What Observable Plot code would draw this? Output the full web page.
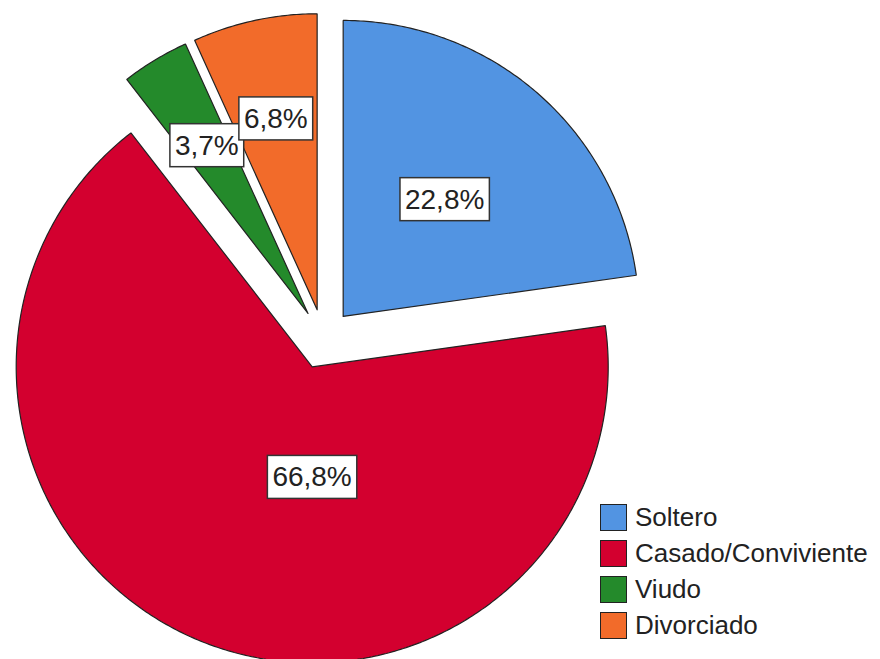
<!DOCTYPE html>
<html><head><meta charset="utf-8">
<script src="https://cdn.jsdelivr.net/npm/d3@7"></script>
<script src="https://cdn.jsdelivr.net/npm/@observablehq/plot@0.6"></script>
<style>
body{margin:0;background:#fff;}
#wrap{position:relative;width:880px;height:659px;overflow:hidden;background:#fff;}
.legend{position:absolute;left:600px;top:499.5px;font-family:"Liberation Sans",Arial,sans-serif;font-size:26px;color:#222;}
.legend .row{display:flex;align-items:center;height:36px;}
.legend .sw{width:27px;height:27px;box-sizing:border-box;border:1.5px solid #222;margin-right:8px;}
</style>
</head><body>
<div id="wrap"></div>
<script>
const categories = ["Soltero", "Casado/Conviviente", "Viudo", "Divorciado"];
const percents = [22.8, 66.8, 3.7, 6.8];
const labelsText = ["22,8%", "66,8%", "3,7%", "6,8%"];
const colors = ["#5294e2", "#d3002f", "#248a2b", "#f26b2a"];

// layout
const W = 880, H = 659, cx = 323, cy = 338.6, R = 296, explode = 30;
const labelLayout = [{r: 0.624, da: 0}, {r: 0.469, da: -17.4}, {r: 0.763, da: 0}, {r: 0.761, da: 0}];

const arcs = d3.pie().sort(null).value(d => d)(percents);
const ex = explode / R;
const slices = [];
const labels = [];
arcs.forEach((a, i) => {
  const mid = (a.startAngle + a.endAngle) / 2;
  const ox = ex * Math.sin(mid), oy = ex * Math.cos(mid);
  const pts = [[ox, oy]];
  const n = Math.max(2, Math.ceil((a.endAngle - a.startAngle) / 0.01));
  for (let k = 0; k <= n; k++) {
    const t = a.startAngle + (a.endAngle - a.startAngle) * k / n;
    pts.push([ox + Math.sin(t), oy + Math.cos(t)]);
  }
  pts.push([ox, oy]);
  pts.forEach(p => slices.push({cat: categories[i], x: p[0], y: p[1]}));
  const la = mid + labelLayout[i].da * Math.PI / 180;
  labels.push({text: labelsText[i], x: labelLayout[i].r * Math.sin(la), y: labelLayout[i].r * Math.cos(la)});
});

const chart = Plot.plot({
  width: W, height: H, margin: 0,
  style: {fontFamily: '"Liberation Sans", Arial, sans-serif', background: "#fff"},
  x: {domain: [-cx / R, (W - cx) / R], axis: null},
  y: {domain: [-(H - cy) / R, cy / R], axis: null},
  color: {domain: categories, range: colors},
  marks: [
    Plot.line(slices, {x: "x", y: "y", z: "cat", fill: "cat", stroke: "#222", strokeWidth: 1.2, strokeLinejoin: "miter"}),
    Plot.text(labels, {x: "x", y: "y", text: "text", fontSize: 28, fill: "#222", className: "pielabel"})
  ]
});
const wrap = document.getElementById("wrap");
wrap.appendChild(chart);

// label boxes
chart.querySelectorAll(".pielabel text").forEach(t => {
  const b = t.getBBox();
  const r = document.createElementNS("http://www.w3.org/2000/svg", "rect");
  r.setAttribute("x", b.x - 5);
  r.setAttribute("y", b.y - 6);
  r.setAttribute("width", b.width + 10);
  r.setAttribute("height", b.height + 12);
  r.setAttribute("fill", "#fff");
  r.setAttribute("stroke", "#333");
  r.setAttribute("stroke-width", "1.5");
  const tr = t.getAttribute("transform");
  if (tr) r.setAttribute("transform", tr);
  t.parentNode.insertBefore(r, t);
});

// legend
const leg = document.createElement("div");
leg.className = "legend";
categories.forEach((c, i) => {
  const row = document.createElement("div");
  row.className = "row";
  const sw = document.createElement("div");
  sw.className = "sw";
  sw.style.background = colors[i];
  const tx = document.createElement("span");
  tx.textContent = c;
  row.appendChild(sw); row.appendChild(tx);
  leg.appendChild(row);
});
wrap.appendChild(leg);
</script>
</body></html>
